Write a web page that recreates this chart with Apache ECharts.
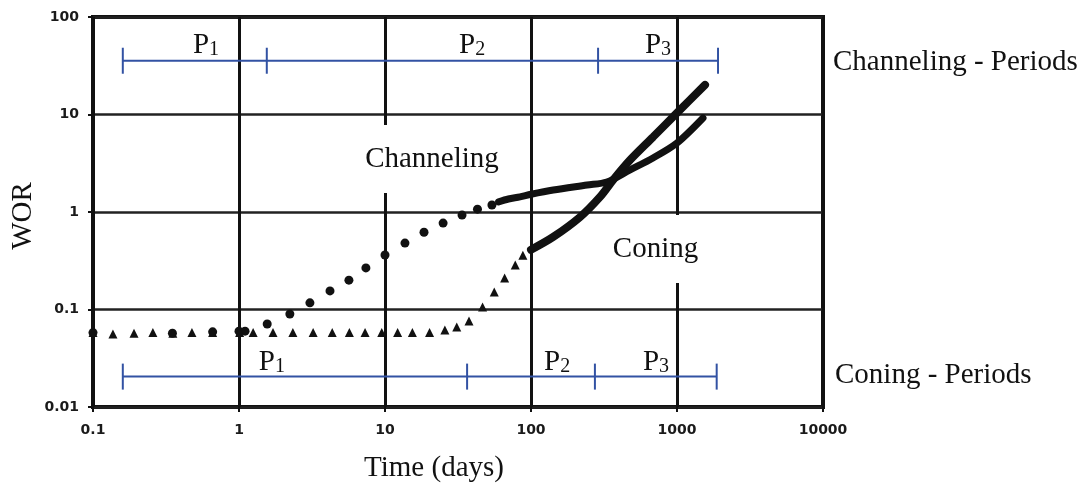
<!DOCTYPE html>
<html>
<head>
<meta charset="utf-8">
<script src="https://cdn.jsdelivr.net/npm/echarts@6/dist/echarts.min.js"></script>
<style>
  html, body { margin: 0; padding: 0; background: #fff; }
</style>
</head>
<body>
<div id="main" style="width: 1086px;height:483px;"></div>
<script type="text/javascript">
    // tick labels
    var xTicks = ['0.1', '1', '10', '100', '1000', '10000'];
    var yTicks = ['0.01', '0.1', '1', '10', '100'];

    // channeling: dotted part then the solid part
    var chanDotX = [0.1, 0.35, 0.66, 1.0, 1.1, 1.56, 2.23, 3.06, 4.2, 5.66, 7.4, 10, 13.7, 18.5, 25, 33.7, 43, 54];
    var chanDotY = [0.058, 0.057, 0.059, 0.06, 0.06, 0.071, 0.09, 0.117, 0.155, 0.20, 0.267, 0.362, 0.48, 0.62, 0.77, 0.93, 1.07, 1.18];
    var chanLineX = [60, 70, 84, 100, 142, 242, 331, 477, 685, 1000, 1507];
    var chanLineY = [1.27, 1.36, 1.43, 1.52, 1.68, 1.89, 2.03, 2.7, 3.58, 5.1, 9.2];

    // coning: triangles then the solid part
    var conDotX = [0.1, 0.137, 0.191, 0.257, 0.352, 0.476, 0.66, 1.01, 1.25, 1.71, 2.34, 3.22, 4.35, 5.7, 7.3, 9.5, 12.2, 15.4, 20.2, 25.7, 31, 37.6, 46.6, 56, 66, 78, 88];
    var conDotY = [0.058, 0.056, 0.057, 0.058, 0.057, 0.058, 0.058, 0.058, 0.058, 0.058, 0.058, 0.058, 0.058, 0.058, 0.058, 0.058, 0.058, 0.058, 0.058, 0.0617, 0.066, 0.076, 0.106, 0.151, 0.21, 0.286, 0.36];
    var conLineX = [100, 142, 217, 297, 365, 477, 685, 1000, 1556];
    var conLineY = [0.41, 0.555, 0.89, 1.43, 2.13, 3.41, 5.87, 10.4, 20.1];

    // period bars
    var chanPeriodX = [0.16, 1.55, 288, 1910];
    var chanPeriodY = 35.6;
    var conPeriodX = [0.16, 36.5, 274, 1870];
    var conPeriodY = 0.0205;
    var periodNames = ['1', '2', '3'];
    var chanPeriodLabelX = [0.594, 39.5, 741];
    var chanPeriodLabelY = 52.8;
    var conPeriodLabelX = [1.68, 151, 718];
    var conPeriodLabelY = 0.0297;

    // region labels (box centres)
    var chanRegionPos = [23.8, 3.5];
    var conRegionPos = [796, 0.418];

    var serif = 'Liberation Serif';
    var blue = '#3252a3';

    function zip(xs, ys) {
        return xs.map(function (x, i) { return [x, Array.isArray(ys) ? ys[i] : ys]; });
    }

    var myChart = echarts.init(document.getElementById('main'));

    var periodRich = {
        p: { fontFamily: serif, fontSize: 29, color: '#111', verticalAlign: 'bottom', lineHeight: 32 },
        s: { fontFamily: serif, fontSize: 20, color: '#111', verticalAlign: 'bottom', lineHeight: 32 }
    };

    function periodLabels(xs, y) {
        return {
            type: 'scatter',
            symbolSize: 1,
            itemStyle: { color: 'rgba(0,0,0,0)', opacity: 1 },
            silent: true,
            z: 5,
            label: {
                show: true,
                position: 'inside',
                formatter: function (p) { return '{p|P}{s|' + periodNames[p.dataIndex] + '}'; },
                rich: periodRich
            },
            data: zip(xs, y)
        };
    }

    function regionLabel(text, pos, pad) {
        return {
            type: 'scatter',
            symbolSize: 1,
            itemStyle: { color: 'rgba(0,0,0,0)', opacity: 1 },
            silent: true,
            z: 2,
            label: {
                show: true,
                position: 'inside',
                formatter: text,
                fontFamily: serif, fontSize: 29, color: '#111',
                lineHeight: 34,
                backgroundColor: '#fff',
                padding: pad
            },
            data: [pos]
        };
    }

    var option = {
        animation: false,
        backgroundColor: '#fff',
        grid: {
            left: 93, top: 17, width: 730, height: 390,
            show: true, borderWidth: 4, borderColor: '#111'
        },
        xAxis: {
            type: 'log',
            min: 0.1, max: 10000,
            axisLine: { show: false },
            axisTick: { show: true, length: 5, lineStyle: { color: '#111', width: 2 } },
            axisLabel: {
                margin: 16,
                formatter: function (v) { return xTicks[Math.round(Math.log10(v)) + 1]; },
                fontFamily: 'DejaVu Sans', fontWeight: 'bold', fontSize: 14, color: '#1a1a1a'
            },
            splitLine: { show: true, lineStyle: { color: '#111', width: 3 } }
        },
        yAxis: {
            type: 'log',
            min: 0.01, max: 100,
            axisLine: { show: false },
            axisTick: { show: true, length: 5, lineStyle: { color: '#111', width: 2 } },
            axisLabel: {
                margin: 14,
                formatter: function (v) { return yTicks[Math.round(Math.log10(v)) + 2]; },
                fontFamily: 'DejaVu Sans', fontWeight: 'bold', fontSize: 14, color: '#1a1a1a'
            },
            splitLine: { show: true, lineStyle: { color: '#222', width: 2.5 } }
        },
        graphic: [
            { type: 'text', x: 833, y: 62, style: { text: 'Channeling - Periods', font: '29px ' + serif, fill: '#111', verticalAlign: 'middle' } },
            { type: 'text', x: 835, y: 375, style: { text: 'Coning - Periods', font: '29px ' + serif, fill: '#111', verticalAlign: 'middle' } },
            { type: 'text', x: 434, y: 468, style: { text: 'Time (days)', font: '29px ' + serif, fill: '#111', align: 'center', verticalAlign: 'middle' } },
            { type: 'text', x: 23, y: 216, rotation: Math.PI / 2, style: { text: 'WOR', font: '29px ' + serif, fill: '#111', align: 'center', verticalAlign: 'middle' } }
        ],
        series: [
            {
                type: 'scatter', symbol: 'circle', symbolSize: 9,
                itemStyle: { color: '#111', opacity: 1 }, z: 3,
                data: zip(chanDotX, chanDotY)
            },
            {
                type: 'line', smooth: 0.3, showSymbol: false, z: 3,
                lineStyle: { color: '#111', width: 7, cap: 'round' },
                data: zip(chanLineX, chanLineY)
            },
            {
                type: 'scatter', symbol: 'triangle', symbolSize: 9,
                itemStyle: { color: '#111', opacity: 1 }, z: 3,
                data: zip(conDotX, conDotY)
            },
            {
                type: 'line', smooth: 0.3, showSymbol: false, z: 3,
                lineStyle: { color: '#111', width: 8, cap: 'round' },
                data: zip(conLineX, conLineY)
            },
            {
                type: 'line', showSymbol: false, z: 4,
                lineStyle: { color: blue, width: 2 },
                data: [[chanPeriodX[0], chanPeriodY], [chanPeriodX[chanPeriodX.length - 1], chanPeriodY]]
            },
            {
                type: 'scatter', symbol: 'rect', symbolSize: [2, 26], z: 4,
                itemStyle: { color: blue, opacity: 1 },
                data: zip(chanPeriodX, chanPeriodY)
            },
            {
                type: 'line', showSymbol: false, z: 4,
                lineStyle: { color: blue, width: 2 },
                data: [[conPeriodX[0], conPeriodY], [conPeriodX[conPeriodX.length - 1], conPeriodY]]
            },
            {
                type: 'scatter', symbol: 'rect', symbolSize: [2, 26], z: 4,
                itemStyle: { color: blue, opacity: 1 },
                data: zip(conPeriodX, conPeriodY)
            },
            periodLabels(chanPeriodLabelX, chanPeriodLabelY),
            periodLabels(conPeriodLabelX, conPeriodLabelY),
            regionLabel('Channeling', chanRegionPos, [5, 27, 29, 11]),
            regionLabel('Coning', conRegionPos, [8, 32, 26, 18])
        ]
    };

    myChart.setOption(option);
</script>
</body>
</html>
